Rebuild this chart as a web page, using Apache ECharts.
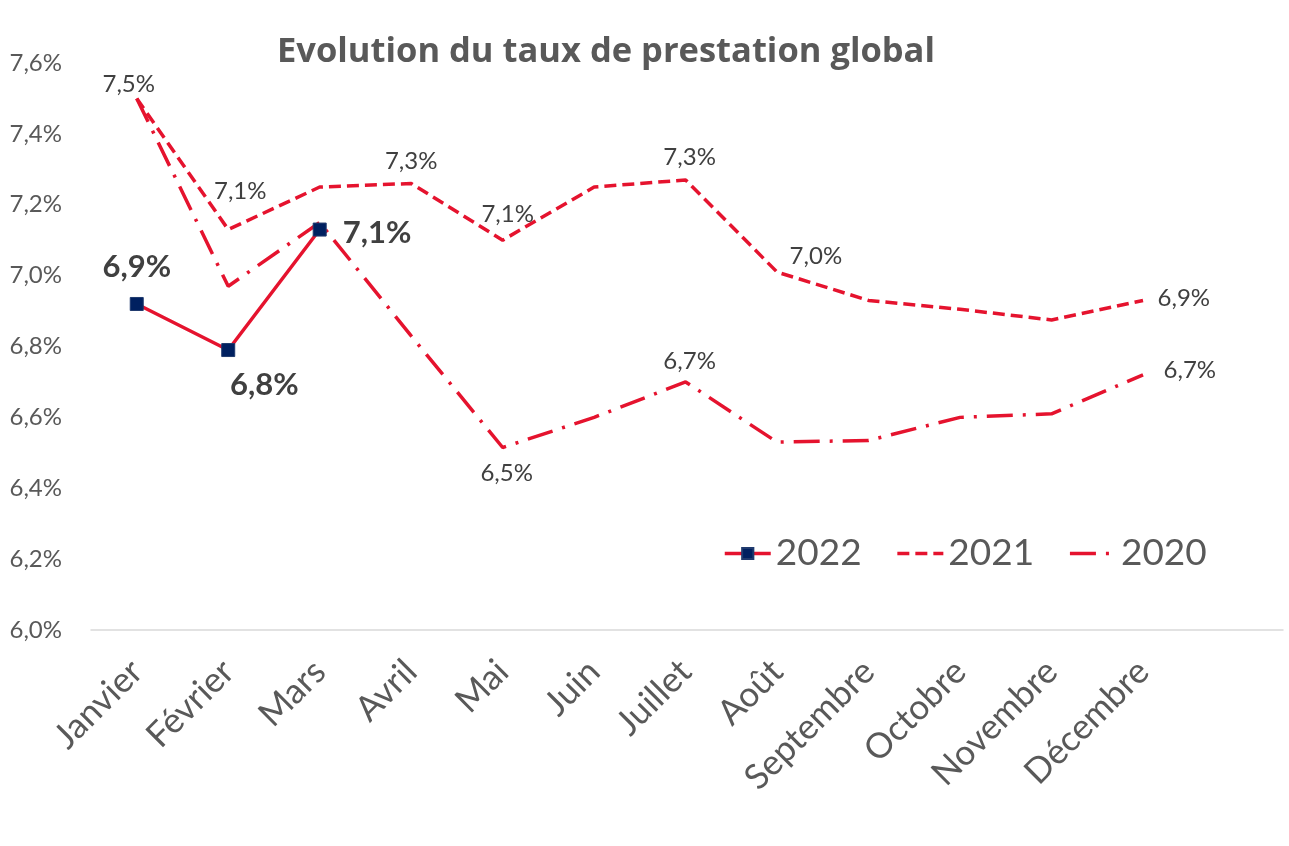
<!DOCTYPE html>
<html>
<head>
<meta charset="utf-8">
<script src="https://cdn.jsdelivr.net/npm/echarts@6/dist/echarts.min.js"></script>
<style>html,body{margin:0;padding:0;background:#fff}#c{width:1289px;height:846px}</style>
</head>
<body>
<div id="c"></div>
<script>
const months = ['Janvier','Février','Mars','Avril','Mai','Juin','Juillet','Août','Septembre','Octobre','Novembre','Décembre'];
const yTicks = [6.0, 6.2, 6.4, 6.6, 6.8, 7.0, 7.2, 7.4, 7.6];
const v2022 = [6.92, 6.79, 7.13];
const v2021 = [7.50, 7.13, 7.25, 7.26, 7.10, 7.25, 7.27, 7.01, 6.93, 6.905, 6.875, 6.93];
const v2020 = [7.50, 6.97, 7.15, 6.83, 6.515, 6.60, 6.70, 6.53, 6.535, 6.60, 6.61, 6.72];

const RED = '#E5132E';
const NAVY = '#002060';
const FONT = 'Lato';
const fmt = v => v.toFixed(1).replace('.', ',') + '%';

function build(vals, labelCfg) {
  return vals.map((v, i) => {
    const d = { value: [i, v] };
    if (labelCfg[i]) d.label = Object.assign({ show: true }, labelCfg[i]);
    return d;
  });
}

const lab2022 = {
  0: { position: 'top', distance: 14 },
  1: { position: 'bottom', distance: 12, offset: [36, 0] },
  2: { position: 'right', distance: 16, offset: [0, 3] }
};
const lab2021 = {
  0: { position: 'top', distance: 2, offset: [-8, 0] },
  1: { position: 'top', distance: 26, offset: [12, 0] },
  3: { position: 'top', distance: 10 },
  4: { position: 'top', distance: 13, offset: [5, 0] },
  6: { position: 'top', distance: 10, offset: [4, 0] },
  7: { position: 'right', distance: 12, offset: [0, -16] },
  11: { position: 'right', distance: 14, offset: [0, -2] }
};
const lab2020 = {
  4: { position: 'bottom', distance: 13, offset: [4, 0] },
  6: { position: 'top', distance: 8, offset: [4, 0] },
  11: { position: 'right', distance: 20, offset: [0, -5] }
};

const lineSeries = (name, vals, labs, lineType) => ({
  name, type: 'line',
  data: build(vals, labs),
  symbol: 'circle', symbolSize: 1, showSymbol: true,
  itemStyle: { color: 'rgba(0,0,0,0)' },
  lineStyle: { color: RED, width: 3.5, type: lineType },
  label: { show: false, formatter: p => fmt(p.value[1]), fontFamily: FONT, fontSize: 24, color: '#404040' }
});

const chart = echarts.init(document.getElementById('c'));
chart.setOption({
  animation: false,
  backgroundColor: '#fff',
  textStyle: { fontFamily: FONT },
  title: {
    text: 'Evolution du taux de prestation global',
    left: 272, top: 30,
    textStyle: { fontFamily: 'Open Sans', fontWeight: 'bold', fontSize: 34.5, color: '#595959' }
  },
  legend: {
    left: 718, top: 530,
    itemWidth: 46, itemHeight: 14, itemGap: 34,
    lineStyle: { width: 3.5 },
    textStyle: { fontFamily: FONT, fontSize: 37, color: '#595959' },
    data: ['2022', '2021', '2020']
  },
  grid: { left: 91, right: 6, top: 63, bottom: 216, containLabel: false },
  xAxis: {
    type: 'value',
    min: -0.5, max: 12.53,
    splitLine: { show: false },
    axisTick: { show: false },
    axisLine: { show: true, lineStyle: { color: '#D9D9D9', width: 1.5 } },
    axisLabel: {
      customValues: months.map((m, i) => i),
      formatter: v => months[Math.round(v)] || '',
      rotate: 45, fontSize: 35, color: '#595959', fontFamily: FONT, margin: 36
    }
  },
  yAxis: {
    type: 'value',
    min: yTicks[0], max: yTicks[yTicks.length - 1], interval: 0.2,
    splitLine: { show: false },
    axisLine: { show: false },
    axisTick: { show: false },
    axisLabel: { formatter: fmt, fontSize: 24, color: '#595959', fontFamily: FONT, margin: 29 }
  },
  series: [
    {
      name: '2022', type: 'line',
      data: build(v2022, lab2022),
      symbol: 'rect', symbolSize: 13,
      itemStyle: { color: NAVY, borderColor: '#1F3A6E', borderWidth: 1 },
      lineStyle: { color: RED, width: 3.5 },
      label: { show: false, formatter: p => fmt(p.value[1]), fontFamily: FONT, fontWeight: 'bold', fontSize: 31, color: '#404040' },
      z: 5
    },
    lineSeries('2021', v2021, lab2021, [12, 6]),
    lineSeries('2020', v2020, lab2020, [26, 10, 3, 10])
  ]
});
</script>
</body>
</html>
